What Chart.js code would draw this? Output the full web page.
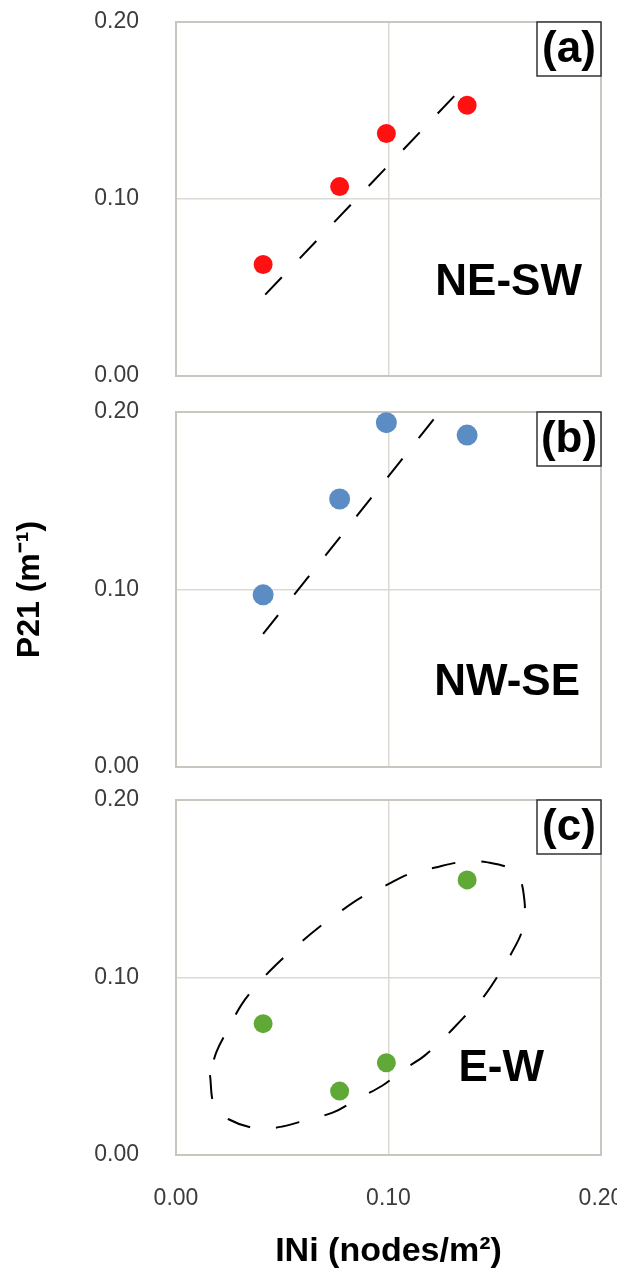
<!DOCTYPE html>
<html>
<head>
<meta charset="utf-8">
<script src="https://cdn.jsdelivr.net/npm/chart.js@4.4.1/dist/chart.umd.min.js"></script>
<style>
  body { margin: 0; background: #fff; width: 617px; height: 1277px; overflow: hidden; position: relative; }
  canvas { position: absolute; left: 0; }
</style>
</head>
<body>
<canvas id="panelA" width="617" height="395" style="top:0px"></canvas>
<canvas id="panelB" width="617" height="390" style="top:395px"></canvas>
<canvas id="panelC" width="617" height="492" style="top:785px"></canvas>
<script>
// INi values (x) shared by all three panels
var ini = [0.041, 0.077, 0.099, 0.137];

// P21 values per fracture set
var p21NeSw = [0.063, 0.107, 0.137, 0.153];
var p21NwSe = [0.097, 0.151, 0.194, 0.187];
var p21EW   = [0.074, 0.036, 0.052, 0.155];

// hand drawn dashed trend lines (end points)
var trendAX = [0.042, 0.138];
var trendAY = [0.046, 0.167];
var trendBX = [0.041, 0.124];
var trendBY = [0.075, 0.200];

// dashed ellipse around the E-W points
var ellipseX = [0.016, 0.018, 0.025, 0.038, 0.050, 0.062, 0.074, 0.086, 0.097, 0.107, 0.117, 0.127,
                0.135, 0.144, 0.151, 0.158, 0.163, 0.164, 0.160, 0.146, 0.134, 0.122, 0.109, 0.099,
                0.087, 0.076, 0.067, 0.057, 0.047, 0.039, 0.031, 0.025, 0.019, 0.016];
var ellipseY = [0.045, 0.028, 0.020, 0.015, 0.016, 0.020, 0.024, 0.032, 0.039, 0.048, 0.056, 0.067,
                0.077, 0.088, 0.100, 0.114, 0.127, 0.143, 0.159, 0.165, 0.165, 0.162, 0.158, 0.152,
                0.145, 0.136, 0.128, 0.118, 0.107, 0.097, 0.085, 0.072, 0.058, 0.045];

var tickVals = [0, 0.10, 0.20];
var panelLabels = ['(a)', '(b)', '(c)'];
var setNames = ['NE-SW', 'NW-SE', 'E-W'];

Chart.defaults.font.family = "'Liberation Sans', Arial, sans-serif";

function pts(xs, ys) {
  var out = [];
  for (let i = 0; i < xs.length; i++) {
    out.push({x: xs[i], y: ys[i]});
  }
  return out;
}

function gridColor(c) { return c.index === 1 ? '#dcd9d2' : '#c9c6bf'; }
function gridWidth(c) { return c.index === 1 ? 1.5 : 2; }

function makePanel(id, p) {
  var datasets = [{
    data: pts(ini, p.y),
    showLine: false,
    pointRadius: p.r,
    pointBorderWidth: 0,
    pointBackgroundColor: p.color,
    order: 0
  }];
  if (p.lineX) {
    datasets.push({
      data: pts(p.lineX, p.lineY),
      showLine: true,
      borderColor: '#000',
      borderWidth: 2,
      borderDash: [24, 26],
      pointRadius: 0,
      tension: p.tension || 0,
      order: 1
    });
  }

  var textPlugin = {
    id: 'panelText',
    afterDraw: function(chart) {
      var ctx = chart.ctx, ca = chart.chartArea;
      ctx.save();
      ctx.strokeStyle = '#333';
      ctx.lineWidth = 1.5;
      ctx.fillStyle = '#fff';
      ctx.fillRect(ca.right - 64, ca.top, 64, 54);
      ctx.strokeRect(ca.right - 64, ca.top, 64, 54);
      ctx.fillStyle = '#000';
      ctx.font = "bold 44px 'Liberation Sans', Arial, sans-serif";
      ctx.textAlign = 'center';
      ctx.textBaseline = 'middle';
      ctx.fillText(p.label, ca.right - 32, ca.top + 28);
      ctx.textAlign = 'right';
      ctx.textBaseline = 'alphabetic';
      ctx.fillText(p.name, ca.right - p.nameRight, ca.top + p.nameBase);
      ctx.restore();
    }
  };

  return new Chart(document.getElementById(id).getContext('2d'), {
    type: 'scatter',
    data: {datasets: datasets},
    options: {
      responsive: false,
      animation: false,
      events: [],
      devicePixelRatio: 1,
      layout: {padding: {top: p.top, bottom: p.bottom, left: 0, right: 16}},
      plugins: {legend: {display: false}, tooltip: {enabled: false}},
      scales: {
        x: {
          min: 0, max: 0.2,
          afterBuildTicks: function(s) { s.ticks = tickVals.map(function(v) { return {value: v}; }); },
          afterFit: function(s) {
            s.height = p.xHeight;
            s.paddingLeft = 0; s.paddingRight = 0; s.paddingTop = 0; s.paddingBottom = 0;
          },
          grid: {color: gridColor, lineWidth: gridWidth, drawTicks: false},
          border: {color: '#c9c6bf', width: 2},
          ticks: {
            display: p.xAxis, padding: 30, color: '#3c3c3c', font: {size: 23},
            maxRotation: 0,
            callback: function(v) { return v.toFixed(2); }
          },
          title: {
            display: p.xAxis, text: 'INi (nodes/m²)', color: '#000',
            font: {size: 34, weight: 'bold'}, padding: {top: 0, bottom: 5}
          }
        },
        y: {
          min: 0, max: 0.2,
          afterBuildTicks: function(s) { s.ticks = tickVals.map(function(v) { return {value: v}; }); },
          afterFit: function(s) {
            s.width = 176;
            s.paddingLeft = 0; s.paddingRight = 0; s.paddingTop = 0; s.paddingBottom = 0;
          },
          grid: {color: gridColor, lineWidth: gridWidth, drawTicks: false},
          border: {color: '#c9c6bf', width: 2},
          ticks: {
            padding: 37, color: '#3c3c3c', font: {size: 23},
            callback: function(v) { return v.toFixed(2); }
          },
          title: {
            display: p.yTitle, text: 'P21 (m⁻¹)', color: '#000',
            font: {size: 32, weight: 'bold'}, padding: {top: 11, bottom: 0}
          }
        }
      }
    },
    plugins: [textPlugin]
  });
}

makePanel('panelA', {
  y: p21NeSw, color: '#ff1111', r: 9.5,
  lineX: trendAX, lineY: trendAY,
  top: 22, bottom: 19, xHeight: 0, xAxis: false, yTitle: false,
  label: panelLabels[0], name: setNames[0], nameRight: 19, nameBase: 273
});

makePanel('panelB', {
  y: p21NwSe, color: '#5b8cc4', r: 10.5,
  lineX: trendBX, lineY: trendBY,
  top: 17, bottom: 18, xHeight: 0, xAxis: false, yTitle: true,
  label: panelLabels[1], name: setNames[1], nameRight: 21, nameBase: 283
});

makePanel('panelC', {
  y: p21EW, color: '#60a936', r: 9.5,
  lineX: ellipseX, lineY: ellipseY, tension: 0.35,
  top: 15, bottom: 0, xHeight: 122, xAxis: true, yTitle: false,
  label: panelLabels[2], name: setNames[2], nameRight: 57, nameBase: 281
});
</script>
</body>
</html>
